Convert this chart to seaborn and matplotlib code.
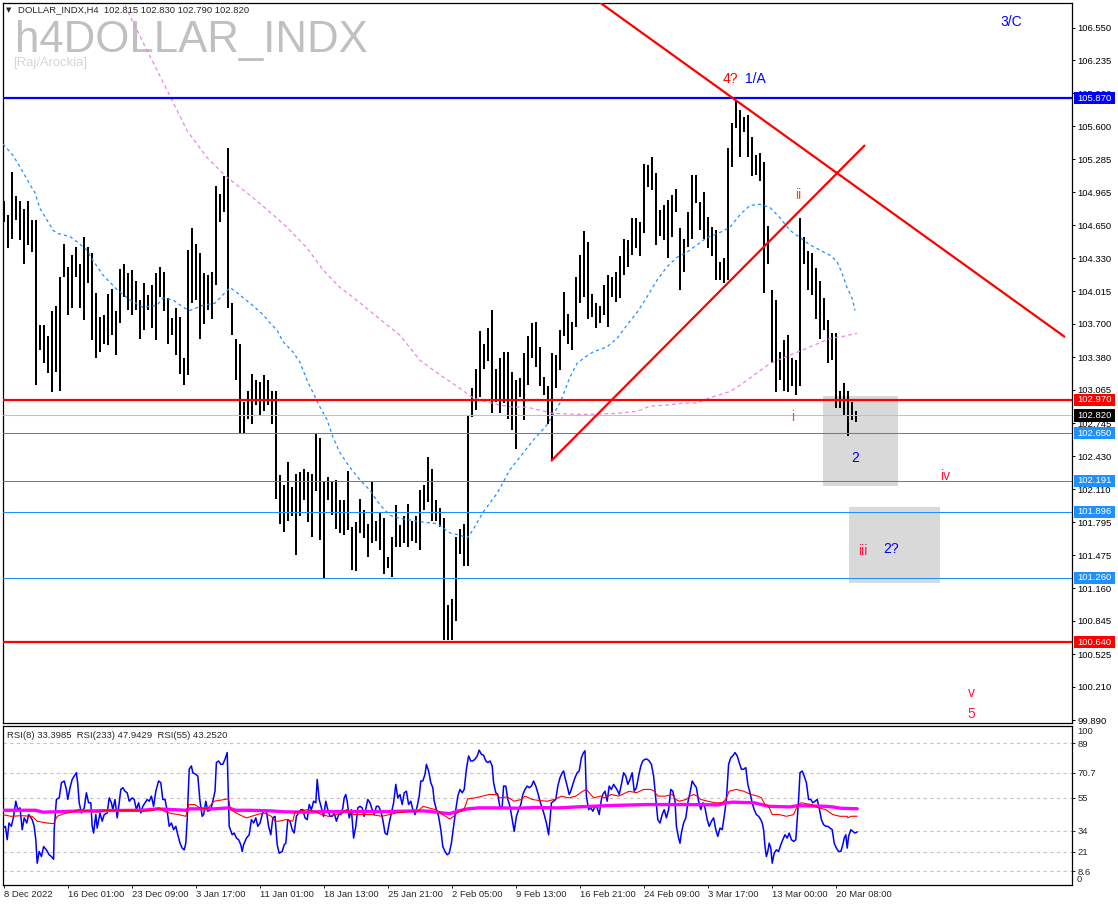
import numpy as np
import pandas as pd
import matplotlib
matplotlib.use("Agg")
import matplotlib.pyplot as plt
import matplotlib.transforms as mtransforms
from matplotlib.patches import Rectangle
import seaborn as sns

# ---------------- DATA ----------------
# one entry per 8-hour bar (two H4 periods), high and low prices
bar_high = [
    104.88, 104.75, 105.16, 104.93, 104.88, 104.81, 104.88, 104.70, 104.70, 103.69,
    103.69, 103.58, 103.82, 103.87, 104.15, 104.47, 104.25, 104.36, 104.44, 104.28,
    104.54, 104.44, 104.38, 104.00, 103.77, 103.79, 103.99, 104.04, 103.82, 104.23,
    104.28, 104.19, 104.22, 104.11, 103.93, 104.09, 103.98, 104.07, 104.19, 104.25,
    104.20, 103.95, 103.76, 103.85, 103.77, 103.37, 104.41, 104.62, 104.47, 104.38,
    104.19, 104.17, 104.20, 105.03, 104.95, 105.12, 105.39, 103.90, 103.56, 103.51,
    102.95, 103.06, 103.22, 103.16, 103.14, 103.21, 103.16, 103.06, 103.06, 102.25,
    102.15, 102.37, 102.13, 102.26, 102.28, 102.31, 102.28, 102.26, 102.65, 102.60,
    102.18, 102.23, 102.18, 102.20, 102.01, 102.01, 102.29, 101.75, 101.80, 102.02,
    101.91, 101.78, 102.18, 101.81, 101.88, 101.83, 101.46, 101.65, 101.96, 101.77,
    101.85, 101.97, 101.81, 101.85, 102.10, 102.15, 102.42, 102.31, 102.01, 101.93,
    101.83, 101.00, 101.06, 101.65, 101.73, 101.78, 102.82, 103.08, 103.27, 103.63,
    103.51, 103.66, 103.83, 103.27, 103.37, 103.43, 103.43, 103.24, 103.16, 103.18,
    103.42, 103.58, 103.71, 103.72, 103.48, 103.19, 103.10, 103.42, 103.40, 103.64,
    104.01, 103.80, 103.72, 104.15, 104.36, 104.59, 104.49, 103.99, 103.90, 103.87,
    104.07, 104.17, 104.15, 104.20, 104.35, 104.52, 104.51, 104.72, 104.72, 104.68,
    105.24, 105.23, 105.31, 105.15, 104.80, 104.84, 104.89, 104.94, 105.00, 104.62,
    104.52, 104.78, 105.13, 105.13, 104.87, 104.97, 104.73, 104.63, 104.60, 104.30,
    104.33, 105.39, 105.63, 105.85, 105.76, 105.69, 105.71, 105.50, 105.32, 105.34,
    105.26, 104.64, 104.03, 103.93, 103.43, 103.55, 103.59, 103.37, 103.35, 104.72,
    104.54, 104.40, 104.38, 104.24, 104.11, 103.95, 103.74, 103.61, 103.61, 103.06,
    103.13, 103.06, 102.95, 102.86,
]
bar_low = [
    104.68, 104.43, 104.52, 104.70, 104.51, 104.28, 104.46, 104.39, 103.11, 103.45,
    103.32, 103.23, 103.05, 103.24, 103.06, 104.15, 103.79, 103.85, 104.15, 103.85,
    103.74, 104.09, 103.55, 103.37, 103.43, 103.51, 103.50, 103.59, 103.40, 103.71,
    103.96, 103.83, 103.79, 103.83, 103.56, 103.64, 103.83, 103.66, 103.55, 103.96,
    103.82, 103.51, 103.59, 103.40, 103.22, 103.11, 103.21, 103.90, 103.93, 103.56,
    103.70, 103.83, 103.75, 104.07, 104.68, 104.78, 103.85, 103.59, 103.16, 102.65,
    102.65, 102.79, 102.74, 102.92, 102.82, 102.86, 102.92, 102.74, 102.02, 101.78,
    101.70, 101.81, 101.85, 101.48, 101.85, 102.01, 101.80, 101.65, 102.09, 101.62,
    101.25, 102.01, 101.86, 101.73, 101.69, 101.67, 101.72, 101.33, 101.32, 101.69,
    101.64, 101.46, 101.59, 101.61, 101.53, 101.30, 101.35, 101.27, 101.56, 101.56,
    101.59, 101.56, 101.61, 101.59, 101.53, 101.91, 101.99, 101.81, 101.81, 101.75,
    100.66, 100.66, 100.66, 100.84, 101.49, 101.37, 101.37, 102.81, 102.87, 103.00,
    103.27, 103.34, 102.84, 102.95, 102.84, 102.94, 102.79, 102.68, 102.50, 103.00,
    102.78, 103.11, 103.37, 103.29, 103.10, 103.02, 102.74, 102.39, 103.08, 103.26,
    103.58, 103.51, 103.45, 103.67, 103.90, 103.96, 103.75, 103.77, 103.66, 103.71,
    103.79, 103.67, 103.96, 103.91, 103.95, 104.17, 104.25, 104.36, 104.43, 104.35,
    104.57, 105.02, 104.99, 104.46, 104.55, 104.51, 104.33, 104.54, 104.78, 104.03,
    104.20, 104.44, 104.52, 104.86, 104.60, 104.52, 104.43, 104.35, 104.12, 104.12,
    104.09, 104.12, 105.21, 105.58, 105.31, 105.55, 105.31, 105.12, 105.13, 105.07,
    104.00, 104.28, 103.32, 103.05, 103.16, 103.06, 103.05, 103.10, 103.02, 103.10,
    104.28, 104.03, 103.98, 103.75, 103.56, 103.64, 103.32, 103.35, 102.89, 102.89,
    102.82, 102.62, 102.78, 102.76,
]

# moving averages: (H4 bar number, price)
ma_blue = [(-0.5,105.43),(4.5,105.32),(8,105.21),(13,105.04),(15.5,104.96),(18,104.81),(21.5,104.70),
    (24.5,104.60),(27,104.57),(33,104.54),(36.5,104.49),(41.5,104.41),(44.5,104.31),(49.5,104.17),
    (56.5,104.03),(63,103.93),(69.5,103.86),(76.5,103.88),(79.5,103.95),(84.5,103.93),(90.5,103.85),
    (93,103.83),(99.5,103.88),(105.5,103.90),(109.5,103.98),(113,104.05),(116.5,104.00),(123,103.90),
    (129.5,103.79),(133,103.71),(136.5,103.64),(139.5,103.53),(144.5,103.43),(148,103.33),(151.5,103.16),
    (154.5,103.04),(158,102.90),(161.5,102.78),(164.5,102.61),(168,102.46),(173,102.32),(178,102.20),
    (183,102.10),(188,101.96),(193,101.86),(198,101.83),(204.5,101.81),(211.5,101.79),(216.5,101.78),
    (219.5,101.74),(223,101.69),(228,101.67),(231.5,101.64),(234.5,101.72),(239.5,101.89),(246.5,102.07),
    (253,102.30),(258,102.42),(264.5,102.58),(271.5,102.73),(278,102.94),(283,103.19),(286.5,103.32),
    (290.5,103.38),(294.5,103.43),(301.5,103.48),(306.5,103.56),(311.5,103.69),(316.5,103.81),
    (321.5,103.96),(326.5,104.12),(331.5,104.25),(336.5,104.34),(341.5,104.39),(346.5,104.46),
    (351.5,104.53),(358,104.58),(363,104.63),(368,104.75),(373,104.84),(378,104.85),(383,104.82),
    (388,104.72),(393,104.60),(398,104.53),(403,104.46),(408,104.41),(413,104.36),(416.5,104.30),
    (419,104.19),(421.5,104.05),(424,103.95),(425.5,103.83)]
ma_pink = [(55.5,107.01),(61.5,106.72),(71.5,106.33),(81.5,105.95),(91.5,105.56),(101.5,105.30),
    (111.5,105.11),(121.5,104.96),(131.5,104.80),(141.5,104.63),(151.5,104.43),(159.5,104.22),
    (168,104.05),(173,103.98),(198,103.59),(208,103.35),(218,103.21),(228,103.08),(234.5,102.99),
    (241.5,102.95),(248,102.92),(254.5,102.90),(261.5,102.90),(268,102.87),(274.5,102.84),(289.5,102.83),
    (306.5,102.84),(316.5,102.86),(323,102.91),(331.5,102.92),(339.5,102.94),(346.5,102.94),(353,102.99),
    (363,103.05),(369.5,103.13),(376.5,103.23),(383,103.32),(393,103.40),(403,103.48),(413,103.56),
    (419.5,103.58),(426.5,103.61)]

# RSI series: (H4 bar number, value)
rsi8 = [(-0.6,35.8),(0.7,36.9),(1.6,28.5),(2.5,39.0),(3.7,36.9),(4.8,43.2),(5.9,52.7),(6.9,47.4),(8.0,48.5),(9.1,34.8),
    (10.1,42.2),(11.4,39.0),(12.3,44.3),(14.1,41.1),(15.1,36.9),(15.9,28.5),(16.6,13.7),(17.6,21.1),(18.7,17.9),(19.8,24.2),
    (21.2,22.1),(22.6,19.0),(23.7,17.9),(24.8,16.2),(25.1,34.8),(26.2,53.8),(27.6,54.8),(28.7,64.3),(30.1,65.4),(31.2,60.1),
    (31.9,53.8),(33.0,61.2),(34.1,66.4),(35.1,68.5),(36.2,70.6),(36.9,63.3),(37.6,51.7),(38.7,45.3),(40.1,48.5),(41.2,58.0),
    (42.3,51.7),(43.4,51.7),(44.1,36.9),(44.8,32.7),(45.9,44.3),(46.6,35.8),(48.0,45.3),(49.1,40.1),(50.1,44.3),(51.6,45.3),
    (52.6,54.8),(53.7,51.7),(54.4,47.4),(55.5,53.8),(56.6,42.2),(57.6,51.7),(58.4,60.1),(59.4,61.2),(60.5,59.0),(61.6,58.0),
    (62.6,52.7),(64.1,54.8),(65.1,53.8),(66.2,47.4),(67.3,51.7),(68.4,45.3),(69.4,49.5),(70.5,51.7),(71.6,53.8),(72.6,52.7),
    (73.7,55.9),(74.8,49.5),(75.9,59.0),(77.3,65.4),(78.4,64.3),(79.4,53.8),(80.5,53.8),(81.6,46.4),(82.6,36.9),(83.7,39.0),
    (84.8,34.8),(85.9,36.9),(86.9,31.6),(88.0,26.3),(89.1,23.2),(90.1,22.1),(90.9,26.3),(91.6,41.1),(92.6,72.8),(93.7,74.9),
    (94.4,70.6),(95.9,69.6),(96.9,68.5),(98.0,52.7),(99.1,43.2),(99.8,44.3),(100.9,52.7),(101.9,46.4),(103.4,47.4),(104.4,52.7),
    (105.5,59.0),(106.2,77.0),(107.3,78.0),(108.4,75.9),(109.4,75.9),(110.5,79.1),(111.6,83.3),(112.6,36.9),(114.1,31.6),(115.1,32.7),
    (116.2,29.5),(117.3,28.5),(118.4,25.3),(119.1,21.1),(119.8,25.3),(121.2,29.5),(122.6,31.6),(123.7,41.1),(124.8,39.0),(125.9,42.2),
    (126.9,36.9),(128.0,39.0),(129.1,44.3),(130.1,47.4),(131.2,46.4),(132.3,36.9),(133.4,31.6),(134.4,42.2),(135.5,43.2),(136.6,25.3),
    (137.6,20.0),(139.1,21.1),(140.1,25.3),(140.9,26.3),(141.9,41.1),(143.0,40.1),(144.1,34.8),(145.1,32.7),(146.2,43.2),(147.3,45.3),
    (148.4,47.4),(149.4,47.4),(150.5,42.2),(151.6,41.1),(152.6,50.6),(153.7,47.4),(154.8,52.7),(155.9,51.7),(156.6,66.4),(157.6,53.8),
    (158.7,48.5),(159.8,43.2),(160.9,52.7),(161.9,47.4),(163.0,43.2),(164.1,43.2),(165.1,45.3),(166.2,40.1),(167.3,44.3),(168.4,44.3),
    (169.4,48.5),(170.1,54.8),(170.9,56.9),(171.6,52.7),(172.6,42.2),(173.7,47.4),(174.8,29.5),(175.9,36.9),(176.9,48.5),(178.0,49.5),
    (179.1,48.5),(180.1,43.2),(181.2,49.5),(181.9,53.8),(183.0,51.7),(184.1,47.4),(185.1,44.3),(186.2,49.5),(187.3,49.5),(188.4,46.4),
    (189.4,41.1),(190.5,32.7),(191.6,31.6),(192.6,39.0),(193.7,45.3),(194.8,51.7),(195.9,63.3),(196.9,54.8),(198.0,56.9),(199.1,50.6),
    (200.1,58.0),(201.2,59.0),(202.3,50.6),(203.4,52.7),(204.4,47.4),(205.5,44.3),(206.6,49.5),(207.6,55.9),(208.4,65.4),(209.4,65.4),
    (210.5,69.6),(211.2,75.9),(212.3,71.7),(213.4,64.3),(214.4,61.2),(215.1,52.7),(216.2,47.4),(217.3,43.2),(218.4,34.8),(219.4,24.2),
    (220.5,21.1),(221.6,19.0),(222.6,20.0),(223.7,26.3),(224.8,36.9),(225.9,47.4),(226.9,55.9),(228.0,60.1),(229.1,58.0),(230.1,60.1),
    (231.2,72.8),(232.3,81.2),(233.4,78.0),(234.4,78.0),(235.5,79.1),(236.6,81.2),(237.6,84.8),(238.7,82.2),(239.8,81.6),(240.9,78.0),
    (241.9,77.0),(243.0,78.0),(244.1,74.9),(244.8,64.3),(245.9,58.0),(246.9,56.9),(248.0,48.5),(249.1,49.5),(249.8,62.2),(250.9,62.2),
    (251.9,53.8),(253.0,49.5),(254.1,41.1),(255.1,33.7),(256.2,43.2),(257.3,47.4),(258.4,50.6),(259.4,56.9),(260.5,60.1),(261.6,62.2),
    (262.6,61.2),(263.7,62.2),(264.8,65.4),(265.9,62.2),(266.9,58.0),(268.0,52.7),(269.1,48.5),(270.1,44.3),(271.2,39.0),(272.3,31.6),
    (273.0,41.1),(273.7,51.7),(274.8,52.7),(275.9,53.8),(276.9,62.2),(278.0,67.5),(279.1,70.6),(279.8,71.7),(280.5,67.5),(281.6,62.2),
    (282.6,56.9),(283.4,59.0),(284.4,63.3),(285.5,67.5),(286.6,70.6),(287.6,71.7),(288.7,80.1),(289.8,83.3),(290.5,84.4),(291.2,55.9),
    (292.3,47.4),(293.4,48.5),(294.4,46.4),(295.5,49.5),(296.6,48.5),(297.6,44.3),(298.7,53.8),(299.4,56.9),(300.5,59.0),(301.6,52.7),
    (302.6,62.2),(303.7,60.1),(304.8,63.3),(305.9,61.2),(306.9,59.0),(307.6,56.9),(308.7,63.3),(309.8,70.6),(310.9,68.5),(311.9,63.3),
    (313.0,66.4),(314.1,70.6),(315.1,59.0),(316.2,61.2),(317.3,68.5),(318.4,74.9),(319.4,78.0),(320.5,79.1),(321.6,79.1),(322.6,78.0),
    (323.7,75.9),(324.8,68.5),(325.9,53.8),(326.9,41.1),(328.0,39.0),(329.1,44.3),(330.1,47.4),(331.2,42.2),(332.3,47.4),(333.4,60.1),
    (334.4,59.0),(335.5,52.7),(336.2,36.9),(337.3,29.5),(338.0,26.3),(338.7,32.7),(339.8,39.0),(340.9,42.2),(341.9,51.7),(343.0,58.0),
    (344.1,65.4),(345.1,63.3),(346.2,61.2),(347.3,52.7),(348.4,47.4),(349.4,51.7),(350.5,48.5),(351.6,41.1),(352.6,36.9),(353.7,40.1),
    (354.8,42.2),(355.9,34.8),(356.9,30.6),(358.0,35.8),(359.1,34.8),(360.1,43.2),(361.2,53.8),(362.3,75.9),(363.4,80.1),(364.4,81.2),
    (365.5,83.3),(366.6,81.2),(367.6,77.0),(368.7,72.8),(369.8,72.8),(370.9,73.8),(371.9,63.3),(373.0,58.0),(374.1,51.7),(375.1,47.4),
    (376.2,44.3),(377.3,43.2),(378.4,41.1),(379.1,39.0),(379.8,34.8),(380.5,24.2),(381.2,17.9),(381.9,21.1),(382.6,26.3),(383.4,23.2),
    (384.1,13.7),(385.1,20.0),(386.2,22.1),(387.3,21.1),(388.4,25.3),(389.4,28.5),(390.5,31.6),(391.6,29.5),(392.6,32.7),(393.7,28.5),
    (394.8,27.4),(395.9,28.5),(396.6,41.1),(397.3,53.8),(398.0,70.6),(399.1,71.7),(400.1,68.5),(401.2,64.3),(402.3,53.8),(403.4,53.8),
    (404.4,51.7),(405.5,52.7),(406.6,53.8),(407.6,48.5),(408.7,41.1),(409.8,37.9),(410.9,36.9),(411.9,36.9),(413.0,35.8),(414.1,34.8),
    (415.1,26.3),(416.2,23.2),(417.3,21.1),(418.4,21.1),(419.4,25.3),(420.1,29.5),(420.9,31.6),(421.6,23.2),(422.3,30.6),(423.4,34.8),
    (424.4,33.7),(425.5,32.7),(426.6,33.4)]
rsi55 = [(-0.6,44.3),(3.4,43.2),(8.7,43.6),(14.1,43.2),(16.6,40.1),(21.2,39.0),(24.8,38.6),(26.6,43.2),(30.1,44.9),
    (33.7,45.8),(37.3,47.4),(42.6,46.4),(46.2,45.8),(51.6,47.0),(56.9,47.0),(62.3,47.0),(69.4,46.4),(74.8,47.0),
    (77.6,48.5),(80.1,46.4),(83.7,44.9),(87.3,44.3),(90.9,43.2),(92.3,50.6),(95.3,50.6),(98.0,48.5),(101.6,47.9),
    (105.1,52.7),(110.5,53.8),(112.3,54.2),(113.2,47.4),(117.6,44.3),(121.2,42.2),(126.6,44.3),(130.1,45.3),
    (133.7,43.2),(135.5,40.1),(137.3,40.1),(140.9,41.1),(144.4,40.1),(145.5,45.8),(151.6,47.4),(155.1,46.4),
    (158.7,44.3),(162.3,43.2),(165.9,44.3),(169.4,45.3),(171.2,47.4),(174.8,44.3),(178.4,44.3),(183.7,44.3),
    (189.1,43.2),(192.6,44.3),(196.2,45.3),(199.8,45.8),(203.4,46.4),(206.9,46.4),(209.6,49.5),(212.3,48.5),
    (215.9,47.4),(219.4,44.3),(223.0,41.5),(224.8,43.2),(226.6,45.3),(230.1,47.9),(231.9,54.2),(235.5,54.8),
    (239.1,55.9),(242.6,56.9),(246.2,56.9),(248.0,54.8),(251.6,55.4),(255.1,52.7),(258.7,53.8),(260.5,55.9),
    (264.1,53.8),(267.6,53.1),(271.6,52.7),(275.1,53.8),(278.7,55.9),(282.3,54.8),(285.9,55.9),(289.4,59.0),
    (291.2,60.1),(294.8,54.8),(298.4,55.9),(300.1,54.8),(303.7,56.9),(307.3,55.9),(310.9,58.0),(312.6,59.0),
    (316.2,58.0),(319.8,60.1),(323.4,60.1),(325.1,59.0),(326.9,55.9),(330.5,55.9),(334.1,56.9),(335.9,53.8),
    (337.6,52.7),(341.2,53.8),(343.0,55.9),(344.8,56.9),(346.6,55.9),(348.4,53.8),(351.9,52.7),(355.5,51.7),
    (359.1,51.7),(360.9,53.8),(362.6,59.0),(366.2,60.1),(369.8,59.0),(373.4,56.9),(376.9,55.9),(378.7,54.8),
    (380.5,50.6),(382.3,49.5),(384.1,44.3),(387.6,44.3),(391.2,43.2),(394.8,44.3),(396.6,49.5),(398.4,51.7),
    (403.7,50.6),(407.3,48.5),(410.9,47.4),(414.4,44.3),(418.0,43.2),(421.6,43.2),(421.9,42.2),(423.4,43.2),(426.6,43.25)]
rsi233 = [(-0.6,47.0),(15.9,47.0),(19.4,45.8),(33.7,46.4),(51.6,46.8),(69.4,47.0),(76.6,47.9),(90.9,47.0),
    (92.6,47.9),(105.1,47.9),(112.3,48.5),(115.9,47.0),(123.0,47.0),(133.7,46.6),(140.9,46.0),(151.6,45.8),
    (158.7,46.2),(176.6,46.2),(190.9,46.2),(198.0,46.4),(208.7,46.6),(212.3,46.4),(219.4,45.3),(223.0,44.9),
    (226.6,46.4),(231.9,47.9),(237.3,48.5),(248.0,48.5),(256.9,48.3),(265.9,48.7),(277.6,48.5),(285.9,49.1),
    (303.7,50.0),(321.6,50.6),(339.4,50.6),(357.3,50.4),(360.9,51.7),(364.4,52.1),(375.1,51.7),(382.3,49.5),
    (393.0,49.1),(396.6,49.9),(410.9,49.5),(414.4,49.1),(418.0,48.3),(426.6,47.94)]

# horizontal price levels
level_prices = [105.870, 102.970, 102.820, 102.650, 102.191, 101.896, 101.260, 100.640]
level_kinds = ['blue', 'red', 'price', 'aqua', 'aqua', 'aqua', 'aqua', 'red']

# trend lines: (bar, price) start and end
trend_down = [(298, 106.79), (530.5, 103.574)]
trend_up = [(273.5, 102.382), (430.5, 105.42)]

# shaded target zones: (bar from, bar to, price low, price high)
zones = [(409.5, 447.0, 102.141, 103.007), (422.5, 468.0, 101.209, 101.939)]

# wave labels
wave_text = ['3/C', '4?', '1/A', 'ii', 'i', '2', 'iv', 'iii', '2?', 'v', '5']
wave_bar = [503.5, 363, 375.5, 397, 394.5, 425.5, 470.5, 429.5, 443.5, 483.5, 483.5]
wave_price = [106.60, 106.06, 106.06, 104.94, 102.81, 102.41, 102.24, 101.52, 101.54, 100.15, 99.95]
wave_kind = ['blue', 'red', 'blue', 'orange', 'orange', 'blue', 'crimson', 'crimson', 'blue', 'crimson', 'crimson']

price_ticks = [106.550, 106.235, 105.920, 105.600, 105.285, 104.965, 104.650, 104.330, 104.015,
               103.700, 103.380, 103.065, 102.745, 102.430, 102.110, 101.795, 101.475, 101.160,
               100.845, 100.525, 100.210, 99.890]
rsi_levels = [89, 70.7, 55, 34, 21, 8.6]
time_labels = ['8 Dec 2022', '16 Dec 01:00', '23 Dec 09:00', '3 Jan 17:00', '11 Jan 01:00',
               '18 Jan 13:00', '25 Jan 21:00', '2 Feb 05:00', '9 Feb 13:00', '16 Feb 21:00',
               '24 Feb 09:00', '3 Mar 17:00', '13 Mar 00:00', '20 Mar 08:00']
bars_per_label = 32

header = "DOLLAR_INDX,H4  102.815 102.830 102.790 102.820"
rsi_header = "RSI(8) 33.3985  RSI(233) 47.9429  RSI(55) 43.2520"

# ---------------- STYLE / LAYOUT ----------------
sns.set_style("white")
plt.rcParams['font.family'] = ['Liberation Sans', 'DejaVu Sans']
W, H = 1118, 906
fig = plt.figure(figsize=(W / 100, H / 100), dpi=100)
fig.patch.set_facecolor('white')
ax = fig.add_axes([3 / W, 1 - 723 / H, 1069 / W, 720 / H])
ax2 = fig.add_axes([3 / W, 1 - 885 / H, 1069 / W, 159 / H])
SMALL = 6.8
kind_color = {'blue': '#0000ff', 'red': '#ff0000', 'price': '#c0c0c0', 'aqua': '#1e90ff',
              'orange': '#e8561c', 'crimson': '#ff1a40'}
tag_bg = {'blue': '#0000ff', 'red': '#ff0000', 'price': '#000000', 'aqua': '#1e90ff'}
kind_lw = {'blue': 1.6, 'red': 1.6, 'price': 0.75, 'aqua': 0.75}

XMIN, XMAX = -0.5, 534.0
YMIN, YMAX = 99.863, 106.786

# zones
for b0, b1, p0, p1 in zones:
    ax.add_patch(Rectangle((b0, p0), b1 - b0, p1 - p0, facecolor='#d9d9d9', edgecolor='none', zorder=1))

# bars
bx = np.arange(len(bar_high)) * 2
ax.vlines(bx, bar_low, bar_high, colors='black', linewidth=1.44, zorder=3)

# moving averages
mb = pd.DataFrame(ma_blue, columns=['bar', 'price'])
mp = pd.DataFrame(ma_pink, columns=['bar', 'price'])
ax.plot(mb['bar'], mb['price'], color='#1e90ff', lw=0.9, linestyle=(0, (2.5, 2.5)), zorder=4)
ax.plot(mp['bar'], mp['price'], color='#ee82ee', lw=0.9, linestyle=(0, (3, 2.5)), zorder=4)

# horizontal levels
for p, k in zip(level_prices, level_kinds):
    ax.axhline(p, color=kind_color[k], lw=kind_lw[k], zorder=5)

# trend lines
for tl in (trend_down, trend_up):
    ax.plot([tl[0][0], tl[1][0]], [tl[0][1], tl[1][1]], color='#ff0000', lw=1.6, zorder=6,
            solid_capstyle='butt')

# wave labels
for t, b, p, k in zip(wave_text, wave_bar, wave_price, wave_kind):
    ax.text(b, p, t, color=kind_color[k], fontsize=10, ha='center', va='center', zorder=8)

ax.set_xlim(XMIN, XMAX)
ax.set_ylim(YMIN, YMAX)
ax.set_xticks([])
ax.yaxis.tick_right()
ax.set_yticks(price_ticks)
ax.set_yticklabels([f"{v:.3f}" for v in price_ticks])
ax.tick_params(axis='y', right=True, left=False, length=2.2, width=0.7, pad=1.8, labelsize=SMALL,
               colors='black')
for s in ax.spines.values():
    s.set_color('black'); s.set_linewidth(0.9)

# price tags on right axis
trans = mtransforms.blended_transform_factory(ax.transAxes, ax.transData)
for p, k in zip(level_prices, level_kinds):
    ax.add_patch(Rectangle((1.0019, p - 0.058), 0.0384, 0.116, transform=trans, facecolor=tag_bg[k],
                           edgecolor='none', clip_on=False, zorder=20))
    ax.text(1.0052, p, f"{p:.3f}", transform=trans, color='white', fontsize=SMALL, ha='left',
            va='center', clip_on=False, zorder=21)

# watermark + header
ax.text(15 / W, 1 - 52 / H, "h4DOLLAR_INDX", transform=fig.transFigure, fontsize=31.5,
        color='#c0c0c0', va='baseline', ha='left', zorder=0)
ax.text(13 / W, 1 - 66 / H, "[Raj/Arockia]", transform=fig.transFigure, fontsize=9.4,
        color='#d6d6d6', va='baseline', ha='left', zorder=0)
fig.text(6 / W, 1 - 10 / H, "\u25BC", fontsize=5, family='DejaVu Sans', va='center', ha='left')
fig.text(18 / W, 1 - 10 / H, header, fontsize=SMALL, va='center', ha='left')

# ---------------- RSI PANEL ----------------
r8 = pd.DataFrame(rsi8, columns=['bar', 'rsi'])
r55 = pd.DataFrame(rsi55, columns=['bar', 'rsi'])
r233 = pd.DataFrame(rsi233, columns=['bar', 'rsi'])
for lv in rsi_levels:
    ax2.axhline(lv, color='#c4c4c4', lw=0.8, linestyle=(0, (3, 3)), zorder=1)
sns.lineplot(data=r8, x='bar', y='rsi', ax=ax2, color='#0000ff', linewidth=1.1,
             estimator=None, sort=False, zorder=3)
sns.lineplot(data=r233, x='bar', y='rsi', ax=ax2, color='#ff00ff', linewidth=2.4,
             estimator=None, sort=False, zorder=4)
sns.lineplot(data=r55, x='bar', y='rsi', ax=ax2, color='#ff0000', linewidth=0.8,
             estimator=None, sort=False, zorder=5)
ax2.set_xlim(XMIN, XMAX)
ax2.set_ylim(0, 100)
ax2.set_xlabel(''); ax2.set_ylabel('')
ax2.yaxis.tick_right()
ax2.set_yticks(rsi_levels)
ax2.set_yticklabels([f"{v:g}" for v in rsi_levels])
ax2.tick_params(axis='y', right=True, left=False, length=2.2, width=0.7, pad=1.8, labelsize=SMALL)
rtrans = mtransforms.blended_transform_factory(ax2.transAxes, ax2.transData)
ax2.text(1.0045, 96.4, "100", transform=rtrans, fontsize=SMALL, va='center', ha='left', clip_on=False)
ax2.text(1.0045, 3.6, "0", transform=rtrans, fontsize=SMALL, va='center', ha='left', clip_on=False)
ax2.set_xticks(np.arange(len(time_labels)) * bars_per_label)
ax2.set_xticklabels(time_labels, ha='left')
ax2.tick_params(axis='x', bottom=True, length=2.2, width=0.7, pad=1.5, labelsize=SMALL)
for s in ax2.spines.values():
    s.set_color('black'); s.set_linewidth(0.9)
ax2.text(7 / W, 1 - 735 / H, rsi_header, transform=fig.transFigure, fontsize=SMALL,
         va='center', ha='left')
if ax2.get_legend() is not None:
    ax2.get_legend().remove()

fig.savefig("out.png", dpi=100, facecolor='white')
